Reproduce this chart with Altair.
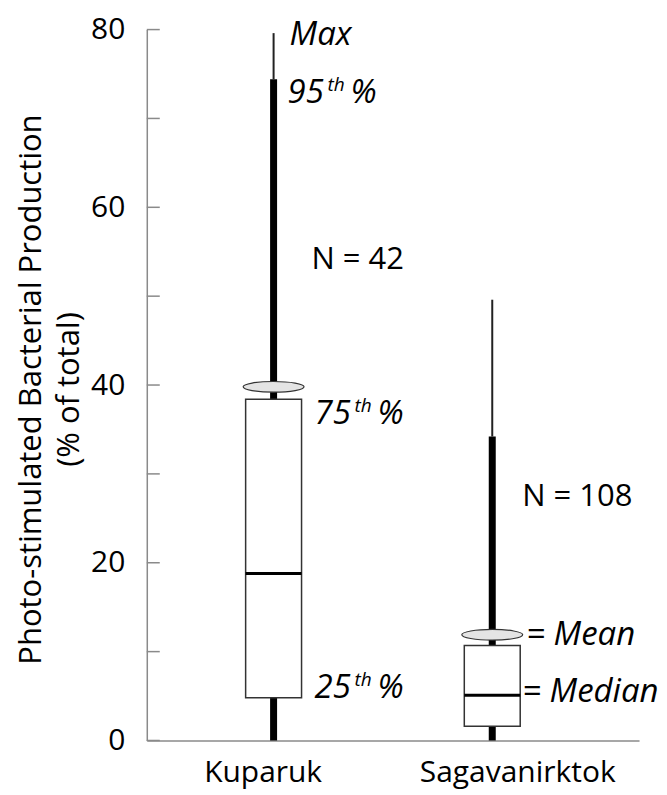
import altair as alt
import pandas as pd

FONT = "Open Sans"

# ---- data ----
sites = ["Kuparuk", "Sagavanirktok"]
low = [0.0, 0.0]
q1 = [4.8, 1.6]
median = [18.8, 5.1]
q3 = [38.4, 10.7]
p95 = [74.4, 34.2]
maxv = [79.6, 49.6]
mean = [39.8, 11.9]
n_obs = [42, 108]
n_label_y = [53.1, 26.4]

minor_ticks = [0, 10, 20, 30, 40, 50, 60, 70, 80]
major_ticks = [0, 20, 40, 60, 80]
y_title = ["Photo-stimulated Bacterial Production", "(% of total)"]

df = pd.DataFrame(dict(site=sites, low=low, q1=q1, median=median, q3=q3,
                       p95=p95, max=maxv, mean=mean, n=n_obs, ny=n_label_y))
df["nlabel"] = ["N = " + str(v) for v in n_obs]
ticks_df = pd.DataFrame({"v": minor_ticks})

GRAY = "#8a8a8a"

X = alt.X(
    "site:N",
    scale=alt.Scale(type="point", domain=sites, padding=0.6256, align=0.4635, round=False),
    axis=alt.Axis(
        title=None, ticks=False, grid=False, domainColor=GRAY, domainWidth=1.5,
        labelFont=FONT, labelFontSize=30, labelColor="black", labelAngle=0,
        labelPadding=41, labelBaseline="alphabetic", labelLimit=500,
        labelOffset={"condition": {"test": "datum.label == 'Kuparuk'", "value": -11}, "value": 25},
    ),
)


def Y(field):
    return alt.Y(
        f"{field}:Q",
        scale=alt.Scale(domain=[0, 80], nice=False, zero=True),
        axis=alt.Axis(
            values=major_ticks, ticks=False, tickSize=0, grid=False,
            domainColor=GRAY, domainWidth=1.5,
            labelFont=FONT, labelFontSize=30, labelColor="black", labelPadding=22,
            labelBaseline="middle",
            title=y_title, titleFont=FONT, titleFontSize=31, titleFontWeight="normal",
            titleColor="black", titleAngle=270, titleX=-106, titleY=360,
            titleAlign="center", titleBaseline="alphabetic", titleLineHeight=38,
        ),
    )


base = alt.Chart(df)

tick_rules = alt.Chart(ticks_df).mark_rule(color=GRAY, strokeWidth=1.5).encode(
    x=alt.value(0), x2=alt.value(13), y=Y("v")
)

thick = base.mark_rule(color="black", strokeWidth=7).encode(x=X, y=Y("low"), y2="p95:Q")
thin = base.mark_rule(color="#222", strokeWidth=2).encode(x=X, y=Y("p95"), y2="max:Q")
box = base.mark_bar(size=56, fill="white", stroke="#333", strokeWidth=1.5, opacity=1).encode(
    x=X, y=Y("q1"), y2="q3:Q"
)
med = base.mark_tick(size=56, thickness=3, color="black", opacity=1).encode(x=X, y=Y("median"))

ellipse_path = "M -1 0 A 1 0.175 0 1 1 1 0 A 1 0.175 0 1 1 -1 0 Z"
mean_pt = base.mark_point(
    shape=ellipse_path, size=61 * 61, filled=True, fill="#e4e4e4", stroke="#333",
    strokeWidth=1.2, opacity=1, fillOpacity=1, strokeOpacity=1,
).encode(x=X, y=Y("mean"))


def note(site, field, text, dx, dy, size=33):
    return base.transform_filter(alt.datum.site == site).mark_text(
        text=text, align="left", baseline="alphabetic", dx=dx, dy=dy,
        font=FONT, fontSize=size, fontStyle="italic", color="black",
    ).encode(x=X, y=Y(field))


def pct_note(site, field, num, dx, dy):
    # number, superscript "th", then "%"
    return [
        note(site, field, num, dx, dy),
        note(site, field, "th", dx + 40, dy - 12, size=19),
        note(site, field, "%", dx + 63, dy),
    ]


notes = (
    [note("Kuparuk", "max", "Max", 16, 12)]
    + pct_note("Kuparuk", "p95", "95", 14, 24)
    + pct_note("Kuparuk", "q3", "75", 41, 25)
    + pct_note("Kuparuk", "q1", "25", 41, 0)
    + [
        note("Sagavanirktok", "mean", "= Mean", 34, 10),
        note("Sagavanirktok", "median", "= Median", 30, 7),
    ]
)

n_text_k = base.transform_filter(alt.datum.site == "Kuparuk").mark_text(
    align="left", baseline="alphabetic", dx=38, font=FONT, fontSize=31, color="black"
).encode(x=X, y=Y("ny"), text="nlabel:N")
n_text_s = base.transform_filter(alt.datum.site == "Sagavanirktok").mark_text(
    align="left", baseline="alphabetic", dx=30, font=FONT, fontSize=31, color="black"
).encode(x=X, y=Y("ny"), text="nlabel:N")

chart = alt.layer(
    tick_rules, thick, thin, box, med, mean_pt, *notes, n_text_k, n_text_s
).properties(
    width=493, height=712,
    autosize=alt.AutoSizeParams(type="none"),
    padding={"left": 139, "top": 21, "right": 20, "bottom": 60},
    background="white",
).configure_view(stroke=None)

chart.save("out.html", embed_options={"renderer": "svg", "actions": False})
